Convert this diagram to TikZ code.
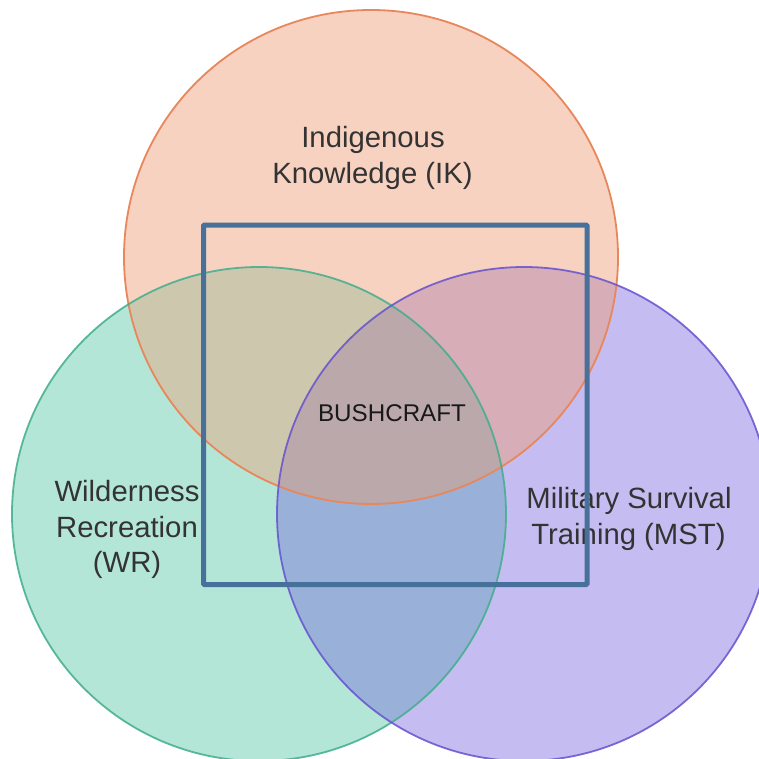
\documentclass[tikz,border=0pt]{standalone}
\usepackage{fontspec}
\setmainfont{Liberation Sans}
\definecolor{ikfill}{HTML}{F7D2C1}
\definecolor{wrfill}{HTML}{B3E6D6}
\definecolor{mstfill}{HTML}{C5BDF1}
\definecolor{ikwr}{HTML}{CDC8AD}
\definecolor{ikmst}{HTML}{D7ADB8}
\definecolor{wrmst}{HTML}{99B1D9}
\definecolor{triple}{HTML}{BBA8AA}
\definecolor{ikline}{HTML}{E8875B}
\definecolor{wrline}{HTML}{41AD8C}
\definecolor{mstline}{HTML}{6652CF}
\definecolor{boxline}{HTML}{47719B}
\definecolor{labeltext}{HTML}{333333}
\tikzset{
  lbl/.style={anchor=base, text=labeltext, font=\fontsize{29.3}{34}\selectfont, inner sep=0pt},
  core/.style={anchor=base, text=black!90, font=\fontsize{24.2}{28}\selectfont, inner sep=0pt},
  ring/.style={line width=1.8pt},
}
\begin{document}
\begin{tikzpicture}[x=1pt,y=-1pt]
\useasboundingbox (0,0) rectangle (759,758);
\fill[white] (0,0) rectangle (759,758);
\coordinate (ikc) at (371,257);
\coordinate (wrc) at (259,514);
\coordinate (mstc) at (524,514);
% single fills
\fill[ikfill] (ikc) circle[radius=247pt];
\fill[wrfill] (wrc) circle[radius=247pt];
\fill[mstfill] (mstc) circle[radius=247pt];
% pairwise
\begin{scope}
  \clip (ikc) circle[radius=247pt];
  \fill[ikwr] (wrc) circle[radius=247pt];
  \fill[ikmst] (mstc) circle[radius=247pt];
\end{scope}
\begin{scope}
  \clip (wrc) circle[radius=247pt];
  \fill[wrmst] (mstc) circle[radius=247pt];
  \clip (mstc) circle[radius=247pt];
  \fill[triple] (ikc) circle[radius=247pt];
\end{scope}
% outlines
\draw[ring, ikline] (ikc) circle[radius=247pt];
\draw[ring, wrline, draw opacity=0.85] (wrc) circle[radius=247pt];
\draw[ring, mstline, draw opacity=0.85] (mstc) circle[radius=247pt];
% labels
\node[lbl] (ik1) at (373,147) {Indigenous};
\node[lbl] (ik2) at (372.5,183) {Knowledge (IK)};
\node[lbl] (wr1) at (127,501) {Wilderness};
\node[lbl] (wr2) at (127,537) {Recreation};
\node[lbl] (wr3) at (127,572) {(WR)};
\node[lbl] (mst1) at (629,508) {Military Survival};
\node[lbl] (mst2) at (628.5,544) {Training (MST)};
\node[core] (bc) at (392,421.5) {BUSHCRAFT};
% square
\draw[boxline, line width=5pt, rounded corners=1pt] (203.5,225) rectangle (587,584.5);
\end{tikzpicture}
\end{document}
